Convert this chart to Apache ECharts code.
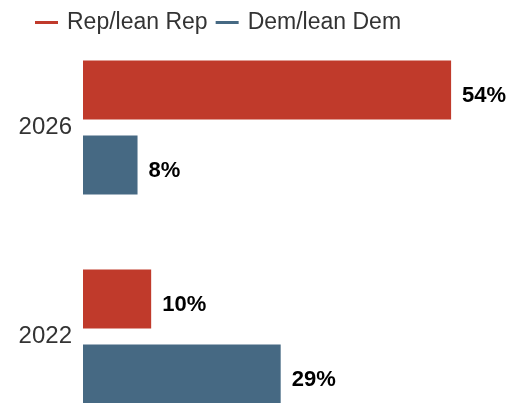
<!DOCTYPE html>
<html>
<head>
<meta charset="utf-8">
<script src="https://cdn.jsdelivr.net/npm/echarts@6/dist/echarts.min.js"></script>
<style>
  html, body { margin: 0; padding: 0; background: #fff; }
  #main { width: 508px; height: 403px; }
</style>
</head>
<body>
<div id="main"></div>
<script>
// categories, top to bottom
const years = ["2026", "2022"];
const seriesNames = ["Rep/lean Rep", "Dem/lean Dem"];
const repValues = [54, 10];
const demValues = [8, 29];

const RED = "#c03a2b";
const BLUE = "#466983";

const chart = echarts.init(document.getElementById("main"));

const barLabel = {
  show: true,
  position: "right",
  distance: 11,
  offset: [0, 6],
  formatter: "{c}%",
  color: "#000",
  fontFamily: "Liberation Sans",
  fontWeight: "bold",
  fontSize: 22,
};

chart.setOption({
  animation: false,
  legend: {
    left: 30,
    top: 6,
    icon: "rect",
    itemWidth: 23,
    itemHeight: 3,
    itemGap: 8,
    textStyle: {
      fontFamily: "Liberation Sans",
      fontSize: 23,
      color: "#333",
      padding: [0, 0, 0, 4],
    },
    data: seriesNames,
  },
  // the lower bar runs off the bottom edge, so the grid goes past the canvas
  grid: { left: 83, right: 16, top: 23, bottom: -38, outerBoundsMode: "none" },
  xAxis: {
    type: "value",
    min: 0,
    max: 60,
    show: false,
  },
  yAxis: {
    type: "category",
    inverse: true,
    data: years,
    axisLine: { show: false },
    axisTick: { show: false },
    axisLabel: {
      margin: 11,
      padding: [5, 0, 0, 0],
      fontFamily: "Liberation Sans",
      fontSize: 24,
      color: "#333",
    },
  },
  series: [
    {
      name: seriesNames[0],
      type: "bar",
      data: repValues,
      barWidth: 59,
      barGap: "27%",
      itemStyle: { color: RED },
      label: barLabel,
    },
    {
      name: seriesNames[1],
      type: "bar",
      data: demValues,
      barWidth: 59,
      itemStyle: { color: BLUE },
      label: barLabel,
    },
  ],
});
</script>
</body>
</html>
